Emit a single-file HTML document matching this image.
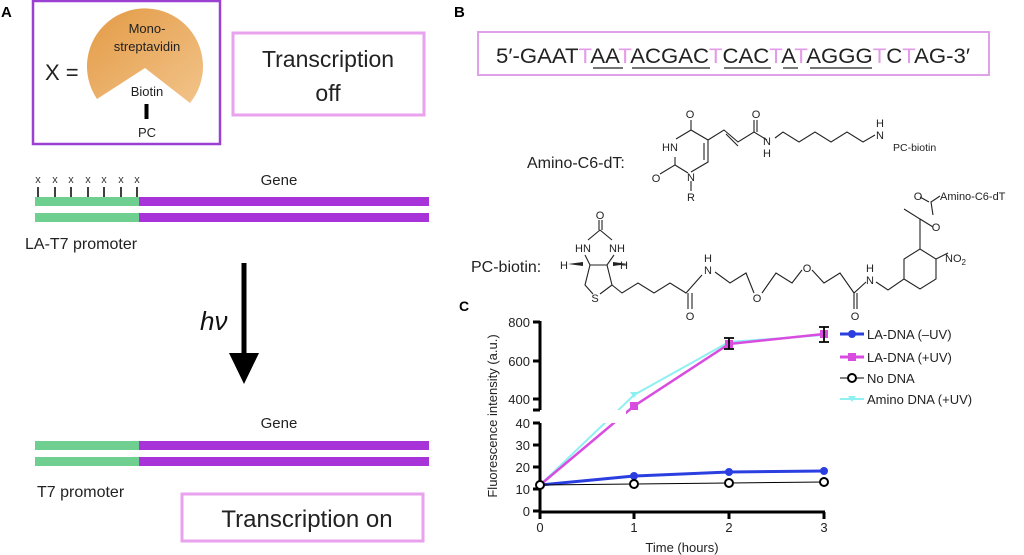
<!DOCTYPE html>
<html><head><meta charset="utf-8"><style>
html,body{margin:0;padding:0;background:#fff;width:1024px;height:555px;overflow:hidden}
svg{display:block;font-family:"Liberation Sans",sans-serif}
</style></head><body>
<svg width="1024" height="555" viewBox="0 0 1024 555" xmlns="http://www.w3.org/2000/svg">
<defs>
<linearGradient id="og" x1="0" y1="0" x2="1" y2="1">
<stop offset="0" stop-color="#e39a45"/><stop offset="1" stop-color="#f2c48a"/></linearGradient>
</defs>
<!-- Panel A -->
<text x="1" y="17" font-size="15" font-weight="bold">A</text>
<rect x="33" y="1" width="187" height="143" fill="none" stroke="#9b40d2" stroke-width="2.5"/>
<path d="M145,68 L97,99 A58,58 0 1 1 190,103 Z" fill="url(#og)"/>
<text x="147" y="33" font-size="13" text-anchor="middle" fill="#222">Mono-</text>
<text x="147" y="51" font-size="13" text-anchor="middle" fill="#222">streptavidin</text>
<text x="45" y="80" font-size="22" fill="#222">X =</text>
<text x="147" y="96" font-size="13" text-anchor="middle" fill="#222">Biotin</text>
<rect x="144.5" y="104" width="4" height="15" fill="#000"/>
<text x="147" y="137" font-size="13" text-anchor="middle" fill="#222">PC</text>
<rect x="233" y="33" width="191" height="82" fill="none" stroke="#e8a2ee" stroke-width="3"/>
<text x="328" y="67" font-size="23" text-anchor="middle" fill="#222">Transcription</text>
<text x="328" y="101" font-size="23" text-anchor="middle" fill="#222">off</text>
<g font-size="11" fill="#333" text-anchor="middle">
<text x="38" y="183">x</text><text x="55" y="183">x</text><text x="71" y="183">x</text><text x="88" y="183">x</text><text x="104" y="183">x</text><text x="121" y="183">x</text><text x="137" y="183">x</text></g>
<g stroke="#000" stroke-width="1.5">
<line x1="38" y1="187" x2="38" y2="201"/><line x1="55" y1="187" x2="55" y2="201"/><line x1="71" y1="187" x2="71" y2="201"/><line x1="88" y1="187" x2="88" y2="201"/><line x1="104" y1="187" x2="104" y2="201"/><line x1="121" y1="187" x2="121" y2="201"/><line x1="137" y1="187" x2="137" y2="201"/></g>
<rect x="35" y="197" width="104" height="9" fill="#6fcf90"/><rect x="139" y="197" width="290" height="9" fill="#a733d9"/>
<rect x="35" y="213" width="104" height="9" fill="#6fcf90"/><rect x="139" y="213" width="290" height="9" fill="#a733d9"/>
<text x="279" y="185" font-size="15" text-anchor="middle" fill="#222">Gene</text>
<text x="25" y="249" font-size="16" fill="#222">LA-T7 promoter</text>
<rect x="241.5" y="263" width="5" height="92" fill="#000"/>
<polygon points="229,353 259,353 244,384" fill="#000"/>
<text x="200" y="330" font-size="26" font-style="italic" fill="#111">hν</text>
<text x="279" y="428" font-size="15" text-anchor="middle" fill="#222">Gene</text>
<rect x="35" y="441" width="104" height="9" fill="#6fcf90"/><rect x="139" y="441" width="290" height="9" fill="#a733d9"/>
<rect x="35" y="457" width="104" height="9" fill="#6fcf90"/><rect x="139" y="457" width="290" height="9" fill="#a733d9"/>
<text x="37" y="497" font-size="16" fill="#222">T7 promoter</text>
<rect x="182" y="494" width="241" height="47" fill="none" stroke="#e8a2ee" stroke-width="3"/>
<text x="307" y="527" font-size="24" text-anchor="middle" fill="#222">Transcription on</text>
<!-- Panel B -->
<text x="454" y="17" font-size="15" font-weight="bold">B</text>
<rect x="478" y="32" width="511" height="43" fill="none" stroke="#e0a0ea" stroke-width="2"/>
<text x="496" y="63" font-size="21" fill="#222" textLength="474" lengthAdjust="spacingAndGlyphs">5′-GAAT<tspan fill="#e39ae8">T</tspan>AA<tspan fill="#e39ae8">T</tspan>ACGAC<tspan fill="#e39ae8">T</tspan>CAC<tspan fill="#e39ae8">T</tspan>A<tspan fill="#e39ae8">T</tspan>AGGG<tspan fill="#e39ae8">T</tspan>C<tspan fill="#e39ae8">T</tspan>AG-3′</text>
<g stroke="#222" stroke-width="1.2">
<line x1="593" y1="68" x2="623" y2="68"/><line x1="632" y1="68" x2="710" y2="68"/><line x1="724" y1="68" x2="771" y2="68"/><line x1="783" y1="68" x2="798" y2="68"/><line x1="810" y1="68" x2="872" y2="68"/></g>
<text x="527" y="168" font-size="16" fill="#222">Amino-C6-dT:</text>
<g stroke="#222" stroke-width="1.1" fill="none">
<path d="M691,120 L691,130 L708,140 L708,162 L691,172 M691,130 L676,139 M675,157 L675,165 L660,174 M691,181 L691,191 M704,143 L704,160 M708,140 L724,130 L738,142 L754,132 L767,140 M754,132 L754,120 M757,132 L757,120 M726,134 L738,146 M775,138 L783,132 L799,142 L815,132 L831,142 L847,132 L863,142 L875,135 M675,165 L688,173"/>
</g>
<g font-size="11" fill="#222" text-anchor="middle">
<text x="690" y="118">O</text><text x="670" y="151">HN</text><text x="656" y="182">O</text><text x="691" y="181">N</text><text x="691" y="201">R</text>
<text x="756" y="118">O</text><text x="767" y="145">N</text><text x="767" y="157">H</text><text x="880" y="127">H</text><text x="880" y="139">N</text></g>
<text x="893" y="151" font-size="10.5" fill="#222">PC-biotin</text>
<text x="471" y="272" font-size="16" fill="#222">PC-biotin:</text>
<g stroke="#222" stroke-width="1.1" fill="none">
<path d="M599,220 L599,230 M602,220 L602,230 M600,230 L588,240 M600,230 L612,240 M585,255 L590,265 L607,265 L614,255 M590,265 L585,285 L593,294 M607,265 L612,285 L600,294 M612,285 L622,293 L638,283 L654,293 L670,283 L686,293 L702,275 M688,293 L688,309 M692,293 L692,309 M715,272 L730,283 L746,273 L754,293 M762,293 L776,273 L792,283 L802,270 M812,270 L824,283 L840,273 L854,293 L866,282 M854,293 L854,309 M857,293 L857,309 M876,282 L888,290 L904,279 L904,259 L920,249 L936,259 L936,279 L920,289 L904,279 M920,249 L920,219 L904,209 M920,219 L933,227 M933,215 L931,202 L940,196 M929,202 L920,197 M936,259 L948,253"/>
</g>
<polygon points="568,264 583,262 583,266" fill="#222"/><polygon points="628,264 613,262 613,266" fill="#222"/>
<g font-size="11" fill="#222" text-anchor="middle">
<text x="600" y="219">O</text><text x="583" y="252">HN</text><text x="617" y="252">NH</text><text x="564" y="269">H</text><text x="624" y="269">H</text><text x="595" y="302">S</text>
<text x="708" y="262">H</text><text x="708" y="274">N</text><text x="690" y="320">O</text><text x="757" y="302">O</text><text x="807" y="272">O</text><text x="855" y="320">O</text><text x="870" y="272">H</text><text x="870" y="284">N</text><text x="936" y="231">O</text><text x="918" y="200">O</text></g>
<text x="940" y="200" font-size="11" fill="#222">Amino-C6-dT</text>
<text x="945" y="262" font-size="11" fill="#222">NO<tspan font-size="8" dy="3">2</tspan></text>
<!-- Panel C -->
<text x="459" y="311" font-size="14" font-weight="bold">C</text>
<g stroke="#000" stroke-width="3" fill="none">
<path d="M540,321 L540,410 M540,423 L540,512 L825,512"/>
<path d="M533,322 L540,322 M533,361 L540,361 M533,399 L540,399 M533,410 L540,410 M533,423 L540,423 M533,445 L540,445 M533,467 L540,467 M533,489 L540,489 M533,511 L540,511 M634,512 L634,519 M729,512 L729,519 M824,512 L824,519 M540,512 L540,519"/>
</g>
<g font-size="13" fill="#222" text-anchor="end">
<text x="530" y="327">800</text><text x="530" y="366">600</text><text x="530" y="404">400</text>
<text x="530" y="428">40</text><text x="530" y="450">30</text><text x="530" y="472">20</text><text x="530" y="494">10</text><text x="530" y="516">0</text></g>
<g font-size="13" fill="#222" text-anchor="middle">
<text x="540" y="532">0</text><text x="634" y="532">1</text><text x="729" y="532">2</text><text x="824" y="532">3</text>
<text x="682" y="552" font-size="13">Time (hours)</text></g>
<text transform="translate(497,416) rotate(-90)" font-size="13" fill="#222" text-anchor="middle">Fluorescence intensity (a.u.)</text>
<polyline points="540,485 634,395 729,342 824,335" fill="none" stroke="#8ff0f2" stroke-width="2"/>
<polyline points="540,485 634,406 729,344 824,334" fill="none" stroke="#d94ce0" stroke-width="2.5"/>
<rect x="542" y="410" width="84" height="13" fill="#fff"/>
<rect x="630" y="402" width="8" height="8" fill="#d94ce0"/>
<polygon points="630,392 638,392 634,398" fill="#8ff0f2"/>
<rect x="725" y="340" width="8" height="8" fill="#d94ce0"/>
<rect x="820" y="330" width="8" height="8" fill="#d94ce0"/>
<g stroke="#000" stroke-width="1.8"><path d="M729,338 L729,349 M724,338 L734,338 M724,349 L734,349 M824,327 L824,342 M819,327 L829,327 M819,342 L829,342"/></g>
<polyline points="540,485 634,476 729,472 824,471" fill="none" stroke="#2b3fe0" stroke-width="3"/>
<g fill="#2b3fe0"><circle cx="634" cy="476" r="4"/><circle cx="729" cy="472" r="4"/><circle cx="824" cy="471" r="4"/></g>
<polyline points="540,485 634,484 729,483 824,482" fill="none" stroke="#000" stroke-width="1"/>
<g fill="#fff" stroke="#000" stroke-width="2"><circle cx="540" cy="485" r="4"/><circle cx="634" cy="484" r="4"/><circle cx="729" cy="483" r="4"/><circle cx="824" cy="482" r="4"/></g>
<!-- legend -->
<line x1="840" y1="334" x2="864" y2="334" stroke="#2b3fe0" stroke-width="3"/><circle cx="852" cy="334" r="4" fill="#2b3fe0"/>
<line x1="840" y1="357" x2="864" y2="357" stroke="#d94ce0" stroke-width="3"/><rect x="848" y="353" width="8" height="8" fill="#d94ce0"/>
<line x1="840" y1="378" x2="864" y2="378" stroke="#000" stroke-width="1"/><circle cx="852" cy="378" r="4" fill="#fff" stroke="#000" stroke-width="2"/>
<line x1="840" y1="399" x2="864" y2="399" stroke="#8ff0f2" stroke-width="2"/><polygon points="848,396 856,396 852,402" fill="#8ff0f2"/>
<g font-size="13" fill="#222">
<text x="867" y="339">LA-DNA (–UV)</text><text x="867" y="362">LA-DNA (+UV)</text><text x="867" y="383">No DNA</text><text x="867" y="404">Amino DNA (+UV)</text></g>
</svg>
</body></html>
